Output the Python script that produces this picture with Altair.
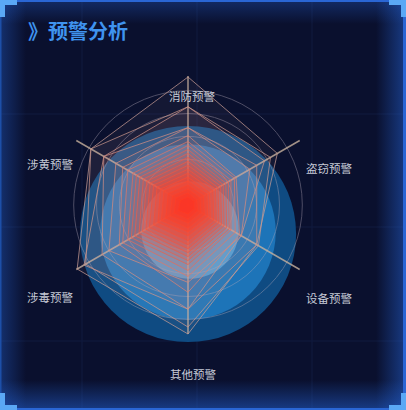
import altair as alt
import pandas as pd

# ---------------- data ----------------
CATEGORIES = ["消防预警", "盗窃预警", "设备预警", "其他预警", "涉毒预警", "涉黄预警"]
MAX_V = 130
# one list per series: values on [消防, 盗窃, 设备, 其他, 涉毒, 涉黄]
S01 = [129, 104, 80, 130, 129, 113]
S02 = [99, 96, 82, 123, 119, 113]
S03 = [99, 89, 62, 105, 121, 98]
S04 = [78, 80, 80, 105, 100, 98]
S05 = [78, 72, 62, 78, 92, 84]
S06 = [70, 56, 60, 88, 80, 76]
S07 = [64, 54, 55, 72, 76, 70]
S08 = [60, 50, 50, 66, 70, 64]
S09 = [56, 47, 48, 60, 66, 60]
S10 = [52, 44, 45, 56, 62, 56]
S11 = [48, 41, 42, 52, 57, 52]
S12 = [44, 38, 39, 48, 53, 48]
S13 = [40, 35, 36, 44, 49, 44]
S14 = [36, 32, 33, 40, 45, 40]
S15 = [32, 29, 30, 36, 40, 36]
S16 = [28, 25, 26, 31, 35, 32]
S17 = [24, 22, 23, 27, 31, 28]
S18 = [20, 18, 19, 23, 26, 23]
S19 = [16, 14, 15, 18, 21, 18]
S20 = [12, 10, 11, 14, 16, 14]
S21 = [8, 7, 7, 9, 11, 9]
SERIES = [S01, S02, S03, S04, S05, S06, S07, S08, S09, S10, S11,
          S12, S13, S14, S15, S16, S17, S18, S19, S20, S21]
GRID_LEVELS = [26, 52, 78, 104, 130]
TITLE = "》预警分析"

# ---------------- layout ----------------
W, H = 406, 410
CX, CY, R = 188, 205, 129
LABEL_POS = {
    "消防预警": (192, 98, "center"),
    "盗窃预警": (306, 170, "left"),
    "设备预警": (306, 300, "left"),
    "其他预警": (193, 376, "center"),
    "涉毒预警": (73, 299, "right"),
    "涉黄预警": (73, 166, "right"),
}
FONT = "Noto Sans CJK SC"

rows = []
for sid, vals in enumerate(SERIES, start=1):
    for k, v in enumerate(vals):
        rows.append({"sid": sid, "k": k, "cat": CATEGORIES[k], "v": v})
poly_df = pd.DataFrame(rows)
axes_df = pd.DataFrame({"k": list(range(len(CATEGORIES))), "cat": CATEGORIES,
                        "v": [MAX_V] * len(CATEGORIES)})
grid_df = pd.DataFrame({"lvl": GRID_LEVELS})

xs = alt.Scale(domain=[-MAX_V, MAX_V], range=[CX - R, CX + R])
ys = alt.Scale(domain=[-MAX_V, MAX_V], range=[CY + R, CY - R])

PX = "datum.v*cos(PI/2 - datum.k*PI/3)"
PY = "datum.v*sin(PI/2 - datum.k*PI/3)"

one = pd.DataFrame({"a": [0]})


def box(x, x2, y, y2, color, opacity=1.0):
    return alt.Chart(one).mark_rect(color=color, opacity=opacity).encode(
        x=alt.value(x), x2=alt.value(x2), y=alt.value(y), y2=alt.value(y2))


def grad(c_from, c_to, horizontal=True):
    if horizontal:
        return alt.Gradient(gradient="linear", x1=0, x2=1, y1=0, y2=0,
                            stops=[alt.GradientStop(color=c_from, offset=0),
                                   alt.GradientStop(color=c_to, offset=1)])
    return alt.Gradient(gradient="linear", x1=0, x2=0, y1=0, y2=1,
                        stops=[alt.GradientStop(color=c_from, offset=0),
                               alt.GradientStop(color=c_to, offset=1)])


layers = []

# faint background grid
for gx in (82, 197, 312):
    layers.append(alt.Chart(one).mark_rule(color="#111a3e", strokeWidth=1).encode(
        x=alt.value(gx), y=alt.value(0), y2=alt.value(H)))
for gy in (114, 227, 341):
    layers.append(alt.Chart(one).mark_rule(color="#111a3e", strokeWidth=1).encode(
        y=alt.value(gy), x=alt.value(0), x2=alt.value(W)))

# edge glows
glow = "rgba(35,95,205,0.55)"
clear = "rgba(35,95,205,0)"
layers.append(box(0, 26, 0, H, grad("rgba(35,95,205,0.4)", clear, True)))
layers.append(box(W - 30, W, 0, H, grad(clear, glow, True)))
layers.append(box(0, W, 0, 24, grad("rgba(35,95,205,0.35)", clear, False)))
layers.append(box(0, W, H - 30, H, grad(clear, glow, False)))

# decorative blue discs
for (cx, cy, r, col) in [(188, 234, 122, "#0f4b82"), (188, 232, 99, "#1d74b8"),
                         (190, 230, 55, "#46a0da")]:
    layers.append(alt.Chart(one).mark_circle(color=col, opacity=1).encode(
        x=alt.value(cx), y=alt.value(cy), size=alt.value(3.14159 * r * r)))

# grid circles
layers.append(alt.Chart(grid_df).transform_calculate(
    zero="0", s=f"PI*pow(datum.lvl*{R}/{MAX_V}, 2)"
).mark_point(shape="circle", filled=False, strokeWidth=1, color="#b3a8b8",
             opacity=0.4).encode(
    x=alt.X("zero:Q", scale=xs, axis=None),
    y=alt.Y("zero:Q", scale=ys, axis=None),
    size=alt.Size("s:Q", scale=None, legend=None)))

# axis spokes
layers.append(alt.Chart(axes_df).transform_calculate(
    zero="0", px=PX, py=PY
).mark_rule(color="#c8b29e", strokeWidth=1.5, opacity=0.8).encode(
    x=alt.X("zero:Q", scale=xs, axis=None), x2="px:Q",
    y=alt.Y("zero:Q", scale=ys, axis=None), y2="py:Q"))

# radar polygons
layers.append(alt.Chart(poly_df).transform_calculate(
    px=PX, py=PY
).mark_line(interpolate="linear-closed", strokeWidth=1, strokeOpacity=0.72).encode(
    x=alt.X("px:Q", scale=xs, axis=None),
    y=alt.Y("py:Q", scale=ys, axis=None),
    detail="sid:N",
    order="k:Q",
    stroke=alt.Stroke("sid:Q", legend=None,
                      scale=alt.Scale(domain=[1, 5, 9, 21],
                                      range=["#c99c94", "#d88b7d", "#ec5f4a", "#ff3a24"])),
    fill=alt.Fill("sid:Q", legend=None,
                  scale=alt.Scale(domain=[1, 6, 10, 21],
                                  range=["#d8aaa8", "#e07868", "#f54c36", "#ff3020"])),
    fillOpacity=alt.FillOpacity("sid:Q", legend=None,
                                scale=alt.Scale(domain=[1, 8, 21], range=[0.05, 0.09, 0.36])),
))

# axis names
for cat in CATEGORIES:
    x, y, al = LABEL_POS[cat]
    layers.append(alt.Chart(pd.DataFrame({"name": [cat]})).mark_text(
        font=FONT, fontSize=11.5, color="#c6cad6", align=al, baseline="middle"
    ).encode(x=alt.value(x), y=alt.value(y), text="name:N"))

# title
layers.append(alt.Chart(pd.DataFrame({"t": [TITLE]})).mark_text(
    font=FONT, fontSize=20, fontWeight="bold", color="#3f93ee", align="left",
    baseline="middle").encode(x=alt.value(28), y=alt.value(33), text="t:N"))

# border lines
edge = "#2a66d4"
layers.append(box(0, W, 0, 2, edge))
layers.append(box(0, W, H - 2, H, edge))
layers.append(box(0, 1.5, 0, H, "#1d4fa8"))
layers.append(box(W - 3, W, 0, H, edge))

# corner brackets
cb = "#5aa8f5"
L, T = 17, 5
for (x0, y0, sx, sy) in [(0, 0, 1, 1), (W, 0, -1, 1), (0, H, 1, -1), (W, H, -1, -1)]:
    xa, xb = sorted([x0, x0 + sx * L])
    ya, yb = sorted([y0, y0 + sy * T])
    layers.append(box(xa, xb, ya, yb, cb))
    xa, xb = sorted([x0, x0 + sx * T])
    ya, yb = sorted([y0, y0 + sy * L])
    layers.append(box(xa, xb, ya, yb, cb))

chart = alt.layer(*layers).properties(
    width=W, height=H, padding=0, background="#0a102e",
    autosize=alt.AutoSizeParams(type="none"),
).configure_view(stroke=None)

chart.save("out.html", embed_options={"renderer": "svg", "actions": False})
